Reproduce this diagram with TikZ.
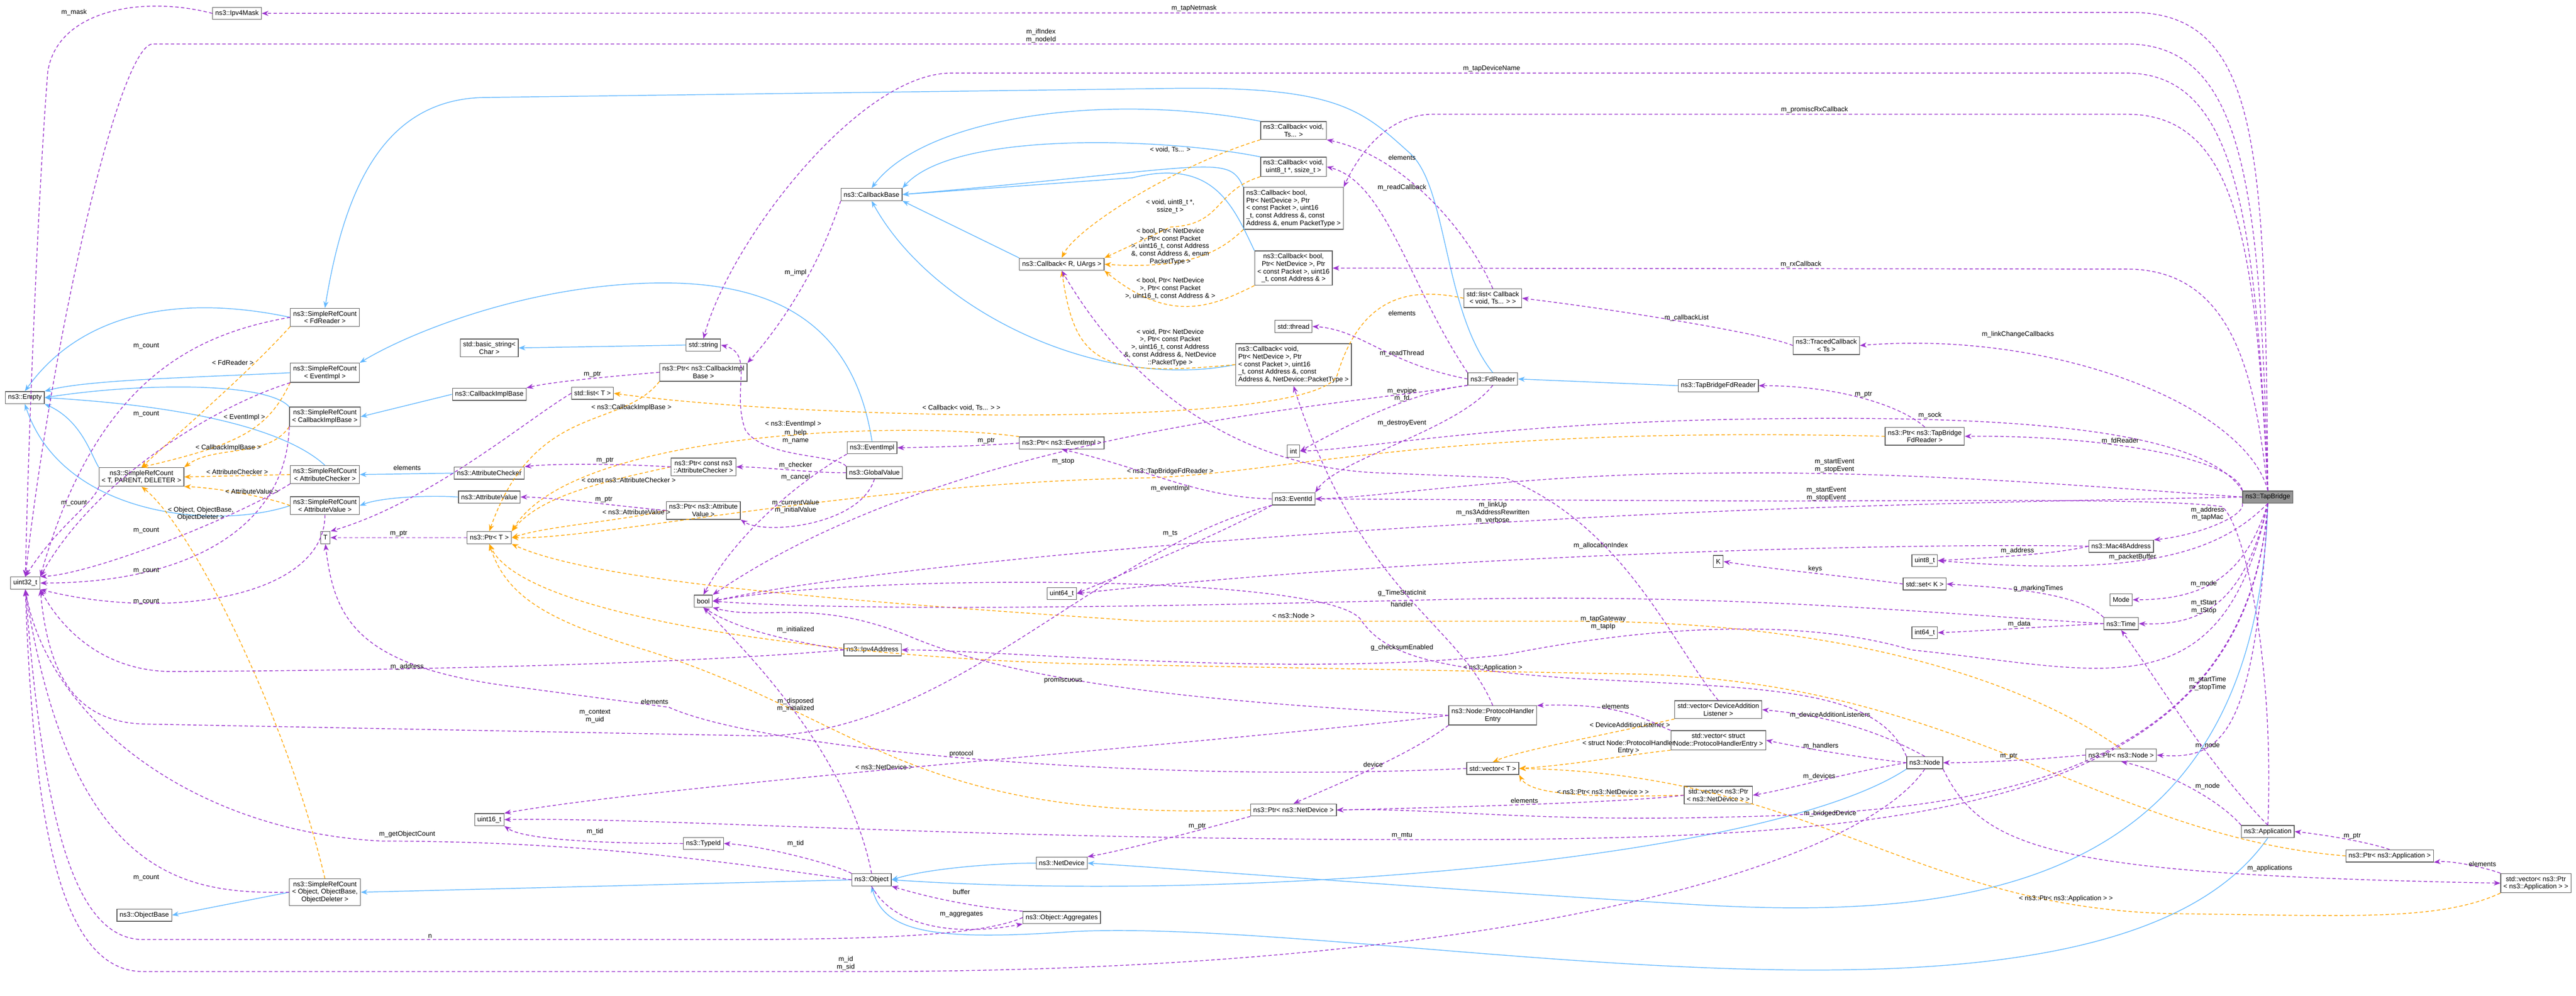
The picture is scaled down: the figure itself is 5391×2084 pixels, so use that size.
\documentclass[tikz,border=0pt]{standalone}
\usepackage{fontspec}
\setmainfont{Liberation Sans}
\usetikzlibrary{arrows.meta}
\definecolor{usecol}{HTML}{9A32CD}
\definecolor{extcol}{HTML}{63B8FF}
\definecolor{tmplcol}{HTML}{FFA500}
\tikzset{
    cls/.style={
        draw=black!65,
        fill=white,
        align=center,
        inner sep=1.6pt,
        minimum height=7.2pt,
        font=\fontsize{4}{4.5}\selectfont
    },
    lbl/.style={
        align=center,
        inner sep=0.6pt,
        font=\fontsize{4}{4.5}\selectfont
    },
    use/.style={
        draw=usecol,
        dash pattern=on 2pt off 1.4pt,
        line width=0.45pt,
        -{Stealth[length=4pt, width=3pt]}
    },
    ext/.style={
        draw=extcol,
        line width=0.45pt,
        -{Stealth[length=4pt, width=3pt]}
    },
    tmpl/.style={
        draw=tmplcol,
        dash pattern=on 2pt off 1.4pt,
        line width=0.45pt,
        -{Stealth[length=4pt, width=3pt]}
    }
}

\begin{document}
\begin{tikzpicture}[x=0.01cm, y=-0.01cm]
    \useasboundingbox (0,0) rectangle (5391,2084);
    % Classes - left side
    \node[cls] (ipvmask) at (496,28) {ns3::Ipv4Mask};
    \node[cls] (srcfd) at (680,664) {ns3::SimpleRefCount\\< FdReader >};
    \node[cls] (srcev) at (680,780) {ns3::SimpleRefCount\\< EventImpl >};
    \node[cls] (empty) at (52,832) {ns3::Empty};
    \node[cls] (srccb) at (680,872) {ns3::SimpleRefCount\\< CallbackImplBase >};
    \node[cls] (srctpd) at (296,998) {ns3::SimpleRefCount\\< T, PARENT, DELETER >};
    \node[cls] (srcac) at (680,993) {ns3::SimpleRefCount\\< AttributeChecker >};
    \node[cls] (srcav) at (680,1058) {ns3::SimpleRefCount\\< AttributeValue >};
    \node[cls] (srcobj) at (680,1867) {ns3::SimpleRefCount\\< Object, ObjectBase,\\ObjectDeleter >};
    \node[cls] (objbase) at (302,1915) {ns3::ObjectBase};
    \node[cls] (basicstr) at (1024,728) {std::basic\_string<\\Char >};
    \node[cls] (stdstr) at (1472,722) {std::string};
    \node[cls] (ptrcib) at (1472,779) {ns3::Ptr< ns3::CallbackImpl\\Base >};
    \node[cls] (cib) at (1024,825) {ns3::CallbackImplBase};
    \node[cls] (listT) at (1240,823) {std::list< T >};
    \node[cls] (achk) at (1024,990) {ns3::AttributeChecker};
    \node[cls] (ptrac) at (1472,977) {ns3::Ptr< const ns3\\::AttributeChecker >};
    \node[cls] (aval) at (1024,1040) {ns3::AttributeValue};
    \node[cls] (ptrav) at (1472,1068) {ns3::Ptr< ns3::Attribute\\Value >};
    \node[cls] (T) at (681,1125) {T};
    \node[cls] (ptrT) at (1024,1125) {ns3::Ptr< T >};
    \node[cls] (u32) at (53,1220) {uint32\_t};
    \node[cls] (bool) at (1472,1258) {bool};
    \node[cls] (u16) at (1024,1715) {uint16\_t};
    \node[cls] (typeid) at (1472,1765) {ns3::TypeId};
    % Classes - middle
    \node[cls] (ipvaddr) at (1826,1360) {ns3::Ipv4Address};
    \node[cls] (object) at (1824,1841) {ns3::Object};
    \node[cls] (cbbase) at (1824,407) {ns3::CallbackBase};
    \node[cls] (evimpl) at (1825,937) {ns3::EventImpl};
    \node[cls] (gval) at (1830,989) {ns3::GlobalValue};
    \node[cls] (cbvts) at (2707,273) {ns3::Callback< void,\\Ts... >};
    \node[cls] (cbvu8) at (2707,349) {ns3::Callback< void,\\uint8\_t *, ssize\_t >};
    \node[cls, align=left] (cbb5) at (2707,436) {ns3::Callback< bool,\\ Ptr< NetDevice >, Ptr\\< const Packet >, uint16\\\_t, const Address \&, const\\ Address \&, enum PacketType >};
    \node[cls] (cbR) at (2222,553) {ns3::Callback< R, UArgs >};
    \node[cls] (cbb4) at (2707,561) {ns3::Callback< bool,\\Ptr< NetDevice >, Ptr\\< const Packet >, uint16\\\_t, const Address \& >};
    \node[cls] (listcb) at (3124,624) {std::list< Callback\\< void, Ts... > >};
    \node[cls] (thread) at (2707,683) {std::thread};
    \node[cls, align=left] (cbv5) at (2707,763) {ns3::Callback< void,\\ Ptr< NetDevice >, Ptr\\< const Packet >, uint16\\\_t, const Address \&, const\\ Address \&, NetDevice::PacketType >};
    \node[cls] (fdr) at (3124,793) {ns3::FdReader};
    \node[cls] (tbfdr) at (3596,807) {ns3::TapBridgeFdReader};
    \node[cls] (ptrev) at (2222,927) {ns3::Ptr< ns3::EventImpl >};
    \node[cls] (int) at (2707,944) {int};
    \node[cls] (evid) at (2707,1044) {ns3::EventId};
    \node[cls] (u64) at (2222,1242) {uint64\_t};
    \node[cls] (phe) at (3124,1497) {ns3::Node::ProtocolHandler\\Entry};
    \node[cls] (vecT) at (3124,1608) {std::vector< T >};
    \node[cls] (ptrnd) at (2707,1695) {ns3::Ptr< ns3::NetDevice >};
    \node[cls] (netdev) at (2222,1806) {ns3::NetDevice};
    \node[cls] (aggr) at (2222,1920) {ns3::Object::Aggregates};
    \node[cls] (vecdal) at (3596,1485) {std::vector< DeviceAddition\\Listener >};
    \node[cls] (vecphe) at (3596,1549) {std::vector< struct\\Node::ProtocolHandlerEntry >};
    \node[cls] (vecnd) at (3596,1664) {std::vector< ns3::Ptr\\< ns3::NetDevice > >};
    \node[cls] (K) at (3596,1175) {K};
    % Classes - right side
    \node[cls] (traced) at (3822,723) {ns3::TracedCallback\\< Ts >};
    \node[cls] (ptrfd) at (4028,913) {ns3::Ptr< ns3::TapBridge\\FdReader >};
    \node[cls, fill=black!42] (tb) at (4746,1040) {ns3::TapBridge};
    \node[cls] (mac) at (4439,1143) {ns3::Mac48Address};
    \node[cls] (u8) at (4028,1173) {uint8\_t};
    \node[cls] (setK) at (4028,1222) {std::set< K >};
    \node[cls] (mode) at (4439,1255) {Mode};
    \node[cls] (time) at (4439,1305) {ns3::Time};
    \node[cls] (i64) at (4028,1324) {int64\_t};
    \node[cls] (ptrnode) at (4439,1580) {ns3::Ptr< ns3::Node >};
    \node[cls] (node) at (4028,1596) {ns3::Node};
    \node[cls] (app) at (4746,1740) {ns3::Application};
    \node[cls] (ptrapp) at (5001,1791) {ns3::Ptr< ns3::Application >};
    \node[cls] (vecapp) at (5307,1848) {std::vector< ns3::Ptr\\< ns3::Application > >};

    % Inheritance
    \draw[ext] (srcfd.west) .. controls (400,620) and (180,640) .. (empty.north);
    \draw[ext] (srcev.west) .. controls (400,790) and (180,795) .. (empty.north east);
    \draw[ext] (srccb.north west) .. controls (560,800) and (300,800) .. (empty.east);
    \draw[ext] (srcac.north) .. controls (600,900) and (400,850) .. (empty.east);
    \draw[ext] (srcav.west) .. controls (450,1110) and (130,1080) .. (empty.south);
    \draw[ext] (srctpd.north west) .. controls (190,950) and (170,880) .. (empty.south east);
    \draw[ext] (fdr.north) .. controls (3020,650) and (3030,390) .. (2950,320) .. controls (2850,230) and (2800,180) .. (2450,185) -- (1010,204) .. controls (800,210) and (720,400) .. (srcfd.north);
    \draw[ext] (evimpl.north) .. controls (1790,700) and (1650,590) .. (1380,592) .. controls (1100,595) and (850,700) .. (srcev.north east);
    \draw[ext] (cib.west) -- (srccb.east);
    \draw[ext] (achk.west) -- (srcac.east);
    \draw[ext] (aval.west) .. controls (900,1036) and (800,1040) .. (srcav.east);
    \draw[ext] (stdstr.west) -- (basicstr.east);
    \draw[ext] (cbvts.north west) .. controls (2300,190) and (1930,250) .. (cbbase.north);
    \draw[ext] (cbvu8.north west) .. controls (2450,290) and (2000,270) .. (cbbase.north east);
    \draw[ext] (cbb5.north west) .. controls (2570,320) and (2540,350) .. (cbbase.east);
    \draw[ext] (cbb4.north west) .. controls (2580,430) and (2540,330) .. (2370,372) -- (cbbase.east);
    \draw[ext] (cbR.north west) -- (cbbase.south east);
    \draw[ext] (cbv5.west) .. controls (2300,820) and (1950,650) .. (cbbase.south);
    \draw[ext] (tbfdr.west) -- (fdr.east);
    \draw[ext] (object.west) -- (srcobj.east);
    \draw[ext] (srcobj.west) -- (objbase.east);
    \draw[ext] (netdev.west) .. controls (2100,1806) and (1950,1815) .. (object.east);
    \draw[ext] (node.south west) .. controls (3700,1800) and (2600,1890) .. (object.east);
    \draw[ext] (app.south) .. controls (4400,2250) and (2900,1920) .. (2250,1949) .. controls (1950,1970) and (1850,1950) .. (object.south);
    \draw[ext] (tb.south) .. controls (4720,1880) and (4100,1930) .. (3500,1890) .. controls (3000,1860) and (2500,1820) .. (netdev.east);

    % Template instances
    \draw[tmpl] (srcfd.south west) .. controls (520,780) and (380,900) .. node[lbl,pos=0.25,left]{< FdReader >} (srctpd.north);
    \draw[tmpl] (srcev.south west) .. controls (560,900) and (500,930) .. node[lbl,pos=0.3,left]{< EventImpl >} (srctpd.north);
    \draw[tmpl] (srccb.south west) .. controls (560,960) and (450,930) .. node[lbl,pos=0.6,above]{< CallbackImplBase >} (srctpd.north east);
    \draw[tmpl] (srcac.west) -- node[lbl,above]{< AttributeChecker >} (srctpd.east);
    \draw[tmpl] (srcav.west) .. controls (560,1040) and (450,1020) .. node[lbl,pos=0.4,above]{< AttributeValue >} (srctpd.south east);
    \draw[tmpl] (srcobj.north) .. controls (600,1500) and (400,1100) .. node[lbl,pos=0.85,right]{< Object, ObjectBase,\\ObjectDeleter >} (srctpd.south);
    \draw[tmpl] (ptrcib.south west) .. controls (1300,900) and (1120,840) .. node[lbl,pos=0.2,below]{< ns3::CallbackImplBase >} (ptrT.north);
    \draw[tmpl] (ptrac.west) .. controls (1250,1010) and (1130,1040) .. node[lbl,pos=0.2,below]{< const ns3::AttributeChecker >} (ptrT.north east);
    \draw[tmpl] (ptrav.west) .. controls (1300,1090) and (1150,1100) .. node[lbl,pos=0.2,above]{< ns3::AttributeValue >} (ptrT.east);
    \draw[tmpl] (ptrev.north west) .. controls (1900,880) and (1200,900) .. (ptrT.north east) node[lbl] at (1660,888) {< ns3::EventImpl >};
    \draw[tmpl] (ptrfd.west) .. controls (3000,890) and (2700,990) .. (2400,1000) .. controls (1800,1010) and (1250,1130) .. (ptrT.east) node[lbl] at (2449,987) {< ns3::TapBridgeFdReader >};
    \draw[tmpl] (ptrnd.west) .. controls (1900,1720) and (1800,1500) .. (1350,1360) .. controls (1150,1300) and (1060,1250) .. (ptrT.south) node[lbl] at (1850,1605) {< ns3::NetDevice >};
    \draw[tmpl] (ptrnode.north) .. controls (4200,1400) and (3800,1300) .. (3300,1300) -- (2400,1300) .. controls (1800,1260) and (1250,1220) .. (ptrT.south east) node[lbl] at (2707,1288) {< ns3::Node >};
    \draw[tmpl] (ptrapp.west) .. controls (4400,1750) and (4100,1420) .. (3400,1410) -- (2300,1390) .. controls (1800,1380) and (1100,1300) .. (ptrT.south) node[lbl] at (3124,1397) {< ns3::Application >};
    \draw[tmpl] (listcb.west) .. controls (2950,600) and (2850,620) .. (2800,780) .. controls (2780,900) and (1700,880) .. (listT.east) node[lbl] at (2012,854) {< Callback< void, Ts... > >};
    \draw[tmpl] (cbvts.south west) .. controls (2450,350) and (2250,480) .. (cbR.north) node[lbl] at (2449,313) {< void, Ts... >};
    \draw[tmpl] (cbvu8.south west) .. controls (2540,400) and (2560,470) .. (2450,475) -- (cbR.north east) node[lbl] at (2449,432) {< void, uint8\_t *,\\ssize\_t >};
    \draw[tmpl] (cbb5.south west) .. controls (2560,520) and (2500,565) .. (cbR.east) node[lbl] at (2449,516) {< bool, Ptr< NetDevice\\>, Ptr< const Packet\\>, uint16\_t, const Address\\\&, const Address \&, enum\\PacketType >};
    \draw[tmpl] (cbb4.south west) .. controls (2540,640) and (2450,680) .. (cbR.south east) node[lbl] at (2449,604) {< bool, Ptr< NetDevice\\>, Ptr< const Packet\\>, uint16\_t, const Address \& >};
    \draw[tmpl] (cbv5.west) .. controls (2300,790) and (2250,760) .. (cbR.south) node[lbl] at (2449,727) {< void, Ptr< NetDevice\\>, Ptr< const Packet\\>, uint16\_t, const Address\\\&, const Address \&, NetDevice\\::PacketType >};
    \draw[tmpl] (vecdal.south west) .. controls (3350,1540) and (3180,1570) .. node[lbl,pos=0.2,above]{< DeviceAdditionListener >} (vecT.north);
    \draw[tmpl] (vecphe.south west) .. controls (3400,1580) and (3300,1600) .. node[lbl,pos=0.3,above]{< struct Node::ProtocolHandler\\Entry >} (vecT.east);
    \draw[tmpl] (vecnd.west) .. controls (3300,1670) and (3200,1660) .. node[lbl,pos=0.3,above]{< ns3::Ptr< ns3::NetDevice > >} (vecT.south east);
    \draw[tmpl] (vecapp.south west) .. controls (5100,1930) and (4900,1915) .. (4550,1912) .. controls (4000,1900) and (3800,1620) .. node[lbl,pos=0.15,above]{< ns3::Ptr< ns3::Application > >} (vecT.east);

    % Members of TapBridge
    \draw[use] (tb.north) .. controls (4740,300) and (4730,20) .. (4450,26) -- node[lbl,above,pos=0.5]{m\_tapNetmask} (ipvmask.east);
    \draw[use] (tb.north) .. controls (4730,400) and (4700,92) .. (4450,92) -- node[lbl,above,pos=0.55]{m\_ifIndex\\m\_nodeId} (320,92) .. controls (250,92) and (110,700) .. (u32.north);
    \draw[use] (tb.north) .. controls (4720,450) and (4680,153) .. (4450,153) -- node[lbl,above,pos=0.54]{m\_tapDeviceName} (1990,153) .. controls (1800,153) and (1530,500) .. (stdstr.north);
    \draw[use] (tb.north) .. controls (4720,500) and (4680,239) .. (4450,239) -- node[lbl,above,pos=0.45]{m\_promiscRxCallback} (3000,239) .. controls (2900,239) and (2840,330) .. (cbb5.north east);
    \draw[use] (tb.north) .. controls (4720,800) and (4680,563) .. (4450,563) -- node[lbl,above,pos=0.41]{m\_rxCallback} (cbb4.east);
    \draw[use] (tb.north) .. controls (4700,850) and (4300,690) .. (traced.east) node[lbl] at (4223,700) {m\_linkChangeCallbacks};
    \draw[use] (tb.north west) .. controls (4600,880) and (4100,868) .. node[lbl,pos=0.7,above]{m\_sock} (3600,878) .. controls (3100,890) and (2850,940) .. (int.east);
    \draw[use] (tb.north west) .. controls (4680,960) and (4400,910) .. node[lbl,pos=0.6,above]{m\_fdReader} (ptrfd.east);
    \draw[use] (tb.west) .. controls (4400,1020) and (4000,985) .. node[lbl,pos=0.8,above]{m\_startEvent\\m\_stopEvent} (3600,990) .. controls (3200,990) and (2900,1040) .. (evid.east);
    \draw[use] (tb.west) .. controls (4200,1050) and (3700,1060) .. (3200,1090) .. controls (2600,1120) and (1800,1190) .. (bool.east) node[lbl] at (3124,1073) {m\_linkUp\\m\_ns3AddressRewritten\\m\_verbose};
    \draw[use] (tb.south west) .. controls (4700,1080) and (4600,1120) .. (mac.north east) node[lbl] at (4620,1075) {m\_address\\m\_tapMac};
    \draw[use] (tb.south) .. controls (4650,1150) and (4500,1210) .. node[lbl,pos=0.6,above]{m\_packetBuffer} (u8.east);
    \draw[use] (tb.south) .. controls (4700,1200) and (4620,1255) .. (mode.east) node[lbl] at (4612,1222) {m\_mode};
    \draw[use] (tb.south) .. controls (4700,1250) and (4620,1310) .. (time.east) node[lbl] at (4612,1270) {m\_tStart\\m\_tStop};
    \draw[use] (tb.south) .. controls (4650,1500) and (4400,1400) .. (4000,1360) .. controls (3800,1300) and (3500,1300) .. (3150,1370) .. controls (2700,1420) and (2100,1360) .. (ipvaddr.east) node[lbl] at (3355,1303) {m\_tapGateway\\m\_tapIp};
    \draw[use] (tb.south) .. controls (4720,1540) and (4650,1590) .. (ptrnode.east) node[lbl] at (4620,1560) {m\_node};
    \draw[use] (tb.south) .. controls (4700,1650) and (4100,1700) .. (3600,1710) .. controls (3200,1720) and (3000,1690) .. (ptrnd.east) node[lbl] at (3830,1703) {m\_bridgedDevice};
    \draw[use] (tb.south) .. controls (4700,1700) and (4000,1757) .. (3000,1757) .. controls (2000,1757) and (1400,1710) .. (u16.east) node[lbl] at (2934,1748) {m\_mtu};

    % Other members
    \draw[use] (ptrfd.north) .. controls (3980,850) and (3850,807) .. node[lbl,pos=0.5,above]{m\_ptr} (tbfdr.east);
    \draw[use] (traced.west) .. controls (3700,700) and (3400,650) .. node[lbl,pos=0.5,above]{m\_callbackList} (listcb.east);
    \draw[use] (listcb.north) .. controls (3080,500) and (2950,330) .. (cbvts.south east) node[lbl] at (2934,330) {elements};
    \draw[use] (listT.west) .. controls (1100,880) and (900,1050) .. (T.north east) node[lbl] at (852,979) {elements};
    \draw[use] (fdr.north west) .. controls (2950,600) and (2900,380) .. (cbvu8.east) node[lbl] at (2934,393) {m\_readCallback};
    \draw[use] (fdr.west) .. controls (2900,760) and (2850,690) .. (thread.east) node[lbl] at (2934,740) {m\_readThread};
    \draw[use] (fdr.south west) .. controls (2950,820) and (2800,900) .. (int.east) node[lbl] at (2934,826) {m\_evpipe\\m\_fd};
    \draw[use] (fdr.south) .. controls (3050,900) and (2800,960) .. (evid.north east) node[lbl] at (2934,885) {m\_destroyEvent};
    \draw[use] (fdr.south west) .. controls (2800,850) and (2000,900) .. (bool.north east) node[lbl] at (2225,966) {m\_stop};
    \draw[use] (mac.west) .. controls (4300,1160) and (4150,1168) .. node[lbl,pos=0.5,above]{m\_address} (u8.east);
    \draw[use] (mac.west) .. controls (4000,1135) and (3000,1160) .. (u64.east) node[lbl] at (3350,1142) {m\_allocationIndex};
    \draw[use] (setK.west) .. controls (3900,1210) and (3700,1190) .. node[lbl,pos=0.5,above]{keys} (K.east);
    \draw[use] (time.north west) .. controls (4350,1240) and (4200,1230) .. node[lbl,pos=0.5,above]{g\_markingTimes} (setK.east);
    \draw[use] (time.west) .. controls (4300,1310) and (4150,1320) .. node[lbl,pos=0.5,above]{m\_data} (i64.east);
    \draw[use] (time.west) .. controls (4000,1280) and (3600,1240) .. (3000,1255) .. controls (2400,1270) and (1800,1280) .. (bool.east) node[lbl] at (2934,1241) {g\_TimeStaticInit};
    \draw[use] (app.north) .. controls (4620,1600) and (4500,1400) .. (time.south) node[lbl] at (4620,1430) {m\_startTime\\m\_stopTime};
    \draw[use] (app.north west) .. controls (4650,1680) and (4550,1620) .. (ptrnode.south) node[lbl] at (4620,1645) {m\_node};
    \draw[use] (app.north) .. controls (4760,1400) and (4700,1100) .. (4650,1060) .. controls (4500,1040) and (4000,1050) .. (3600,1048) -- (evid.east) node[lbl] at (3822,1034) {m\_startEvent\\m\_stopEvent};
    \draw[use] (ptrnode.west) .. controls (4250,1590) and (4150,1596) .. node[lbl,pos=0.5,above]{m\_ptr} (node.east);
    \draw[use] (ptrapp.north) .. controls (4950,1760) and (4850,1745) .. node[lbl,pos=0.4,above]{m\_ptr} (app.east);
    \draw[use] (vecapp.north west) .. controls (5200,1815) and (5130,1800) .. node[lbl,pos=0.3,above]{elements} (ptrapp.south east);
    \draw[use] (node.south east) .. controls (4150,1780) and (4300,1830) .. (vecapp.west) node[lbl] at (4750,1817) {m\_applications};
    \draw[use] (node.north) .. controls (3950,1540) and (3850,1500) .. (vecdal.east) node[lbl] at (3830,1497) {m\_deviceAdditionListeners};
    \draw[use] (node.west) .. controls (3850,1580) and (3750,1560) .. node[lbl,pos=0.5,above]{m\_handlers} (vecphe.east);
    \draw[use] (node.west) .. controls (3850,1620) and (3750,1650) .. node[lbl,pos=0.5,above]{m\_devices} (vecnd.east);
    \draw[use] (node.south) .. controls (3900,1800) and (3200,2033) .. (1800,2033) -- node[lbl,pos=0.02,above]{m\_id\\m\_sid} (300,2033) .. controls (120,2033) and (70,1700) .. (u32.south);
    \draw[use] (node.north west) .. controls (3930,1440) and (3700,1440) .. (3300,1420) .. controls (3000,1400) and (2900,1370) .. (2850,1300) .. controls (2800,1200) and (1800,1200) .. (bool.east) node[lbl] at (2934,1355) {g\_checksumEnabled};
    \draw[use] (vecnd.west) .. controls (3400,1680) and (3000,1690) .. node[lbl,pos=0.5,above]{elements} (ptrnd.east);
    \draw[use] (vecphe.north west) .. controls (3450,1510) and (3400,1470) .. node[lbl,pos=0.6,above]{elements} (phe.north east);
    \draw[use] (vecdal.north) .. controls (3500,1350) and (3400,1100) .. (3150,1000) -- (2900,990) .. controls (2500,980) and (2300,700) .. (cbR.south) node[lbl] at (2934,655) {elements};
    \draw[use] (phe.north) .. controls (3050,1300) and (2850,1250) .. (cbv5.south) node[lbl] at (2934,1265) {handler};
    \draw[use] (phe.south west) .. controls (2950,1580) and (2800,1640) .. node[lbl,pos=0.5,above]{device} (ptrnd.north);
    \draw[use] (phe.west) .. controls (2800,1480) and (2200,1460) .. (1900,1330) .. controls (1700,1250) and (1600,1300) .. (bool.south east) node[lbl] at (2225,1423) {promiscuous};
    \draw[use] (phe.west) .. controls (2600,1550) and (1400,1640) .. (u16.north east) node[lbl] at (2012,1578) {protocol};
    \draw[use] (vecT.west) .. controls (2400,1640) and (1600,1570) .. (1400,1480) -- node[lbl,pos=0.1,above]{elements} (1100,1440) .. controls (750,1400) and (700,1300) .. (T.south);
    \draw[use] (ptrnd.south west) .. controls (2500,1740) and (2350,1780) .. node[lbl,pos=0.3,above]{m\_ptr} (netdev.north east);
    \draw[use] (ptrT.west) -- node[lbl,above]{m\_ptr} (T.east);
    \draw[use] (ptrcib.west) .. controls (1250,790) and (1150,800) .. node[lbl,pos=0.4,above]{m\_ptr} (cib.north east);
    \draw[use] (ptrac.west) .. controls (1300,970) and (1150,970) .. node[lbl,pos=0.4,above]{m\_ptr} (achk.north east);
    \draw[use] (ptrav.west) .. controls (1300,1060) and (1150,1040) .. node[lbl,pos=0.4,above]{m\_ptr} (aval.east);
    \draw[use] (ptrev.west) .. controls (2100,930) and (2000,935) .. node[lbl,pos=0.4,above]{m\_ptr} (evimpl.east);
    \draw[use] (cbbase.south west) .. controls (1700,600) and (1600,720) .. (ptrcib.north east) node[lbl] at (1665,571) {m\_impl};
    \draw[use] (gval.north west) .. controls (1750,950) and (1600,960) .. (1560,900) .. controls (1530,820) and (1580,740) .. (stdstr.east) node[lbl] at (1665,914) {m\_help\\m\_name};
    \draw[use] (gval.west) .. controls (1700,990) and (1600,977) .. (ptrac.east) node[lbl] at (1665,974) {m\_checker};
    \draw[use] (gval.south) .. controls (1800,1100) and (1600,1120) .. (ptrav.south east) node[lbl] at (1665,1060) {m\_currentValue\\m\_initialValue};
    \draw[use] (evimpl.south west) .. controls (1700,990) and (1550,1100) .. (bool.north) node[lbl] at (1665,999) {m\_cancel};
    \draw[use] (evid.west) .. controls (2500,1040) and (2400,980) .. (ptrev.south) node[lbl] at (2449,1022) {m\_eventImpl};
    \draw[use] (evid.south west) .. controls (2550,1120) and (2350,1200) .. (u64.east) node[lbl] at (2449,1117) {m\_ts};
    \draw[use] (evid.south west) .. controls (2300,1150) and (2000,1530) .. (1600,1540) -- (300,1515) .. controls (150,1510) and (100,1400) .. (u32.south east) node[lbl] at (1245,1499) {m\_context\\m\_uid};
    \draw[use] (ipvaddr.west) .. controls (1300,1400) and (500,1405) .. (350,1405) .. controls (200,1400) and (120,1300) .. (u32.south east) node[lbl] at (852,1395) {m\_address};
    \draw[use] (ipvaddr.west) .. controls (1650,1340) and (1550,1320) .. (bool.south) node[lbl] at (1665,1318) {m\_initialized};
    \draw[use] (ipvmask.west) .. controls (300,-10) and (120,20) .. (100,150) .. controls (80,400) and (60,900) .. (u32.north) node[lbl] at (155,26) {m\_mask};
    \draw[use] (object.west) .. controls (1500,1800) and (1200,1760) .. (800,1760) .. controls (400,1740) and (100,1500) .. (u32.south) node[lbl] at (852,1746) {m\_getObjectCount};
    \draw[use] (object.north west) .. controls (1750,1810) and (1600,1770) .. (typeid.east) node[lbl] at (1665,1765) {m\_tid};
    \draw[use] (object.north) .. controls (1780,1600) and (1600,1400) .. (bool.south) node[lbl] at (1665,1475) {m\_disposed\\m\_initialized};
    \draw[use] (object.south) .. controls (1870,1940) and (2000,1960) .. (aggr.south west) node[lbl] at (2012,1913) {m\_aggregates};
    \draw[use] (aggr.north west) .. controls (2050,1900) and (1950,1880) .. (object.south east) node[lbl] at (2012,1866) {buffer};
    \draw[use] (aggr.west) .. controls (2050,1960) and (1800,1966) .. (1500,1966) -- node[lbl,pos=0.5,above]{n} (300,1966) .. controls (150,1966) and (90,1700) .. (u32.south);
    \draw[use] (typeid.west) .. controls (1300,1765) and (1100,1760) .. (u16.south east) node[lbl] at (1245,1740) {m\_tid};
    \draw[use] (srcfd.west) .. controls (400,700) and (200,800) .. (u32.north east) node[lbl] at (306,724) {m\_count};
    \draw[use] (srcev.south west) .. controls (450,850) and (200,1000) .. (u32.north east) node[lbl] at (306,866) {m\_count};
    \draw[use] (srctpd.south west) .. controls (200,1050) and (120,1100) .. (u32.north) node[lbl] at (155,1053) {m\_count};
    \draw[use] (srcac.south west) .. controls (500,1080) and (200,1200) .. (u32.north east) node[lbl] at (306,1110) {m\_count};
    \draw[use] (srccb.south west) .. controls (600,1100) and (400,1220) .. (u32.east) node[lbl] at (306,1194) {m\_count};
    \draw[use] (srcav.south) .. controls (680,1250) and (350,1300) .. (u32.south east) node[lbl] at (306,1259) {m\_count};
    \draw[use] (srcobj.west) .. controls (400,1870) and (150,1850) .. (u32.south) node[lbl] at (306,1837) {m\_count};
\end{tikzpicture}
\end{document}
